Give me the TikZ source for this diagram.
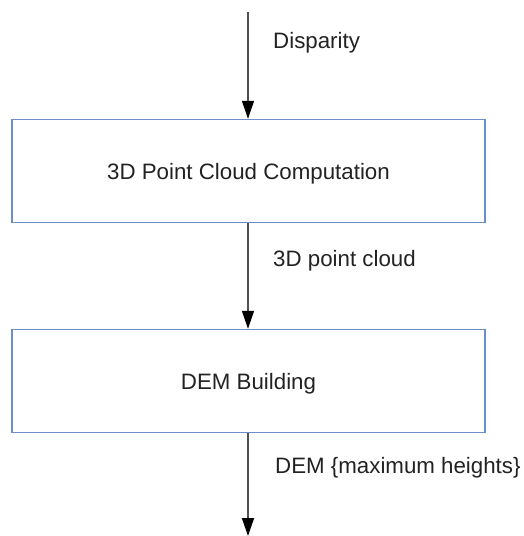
\documentclass[tikz,border=0pt]{standalone}
\usepackage{fontspec}
\setmainfont{Liberation Sans}
\usetikzlibrary{arrows.meta}
\definecolor{boxline}{HTML}{6C8EC8}
\definecolor{flowline}{HTML}{505050}
\definecolor{ink}{HTML}{222222}
\begin{document}
\begin{tikzpicture}[x=1pt,y=-1pt,
  stagebox/.style={draw=boxline,line width=1.4pt,minimum width=473pt,minimum height=103pt,
    inner sep=0pt,text depth=0pt,font=\fontsize{22.3}{26}\selectfont,text=ink},
  flow/.style={draw=flowline,line width=1.5pt,
    -{Triangle[width=12pt,length=18pt,color=black]}},
  flowlabel/.style={anchor=west,inner sep=0pt,text depth=0pt,font=\fontsize{22.3}{26}\selectfont,text=ink}]
\useasboundingbox (0,0) rectangle (524,536);
\node[stagebox] (pc) at (248.5,171) {3D Point Cloud Computation};
\node[stagebox] (dem) at (248.5,381) {DEM Building};
\coordinate (in) at (248,12);
\coordinate (out) at (248,536);
\draw[flow] (in) -- (in |- pc.north);
\draw[flow] (pc.south -| in) -- (dem.north -| in);
\draw[flow] (dem.south -| in) -- (out);
\node[flowlabel] (l1) at (273,40) {Disparity};
\node[flowlabel] (l2) at (273,258) {3D point cloud};
\node[flowlabel] (l3) at (275,465) {DEM \{maximum heights\}};
\end{tikzpicture}
\end{document}
